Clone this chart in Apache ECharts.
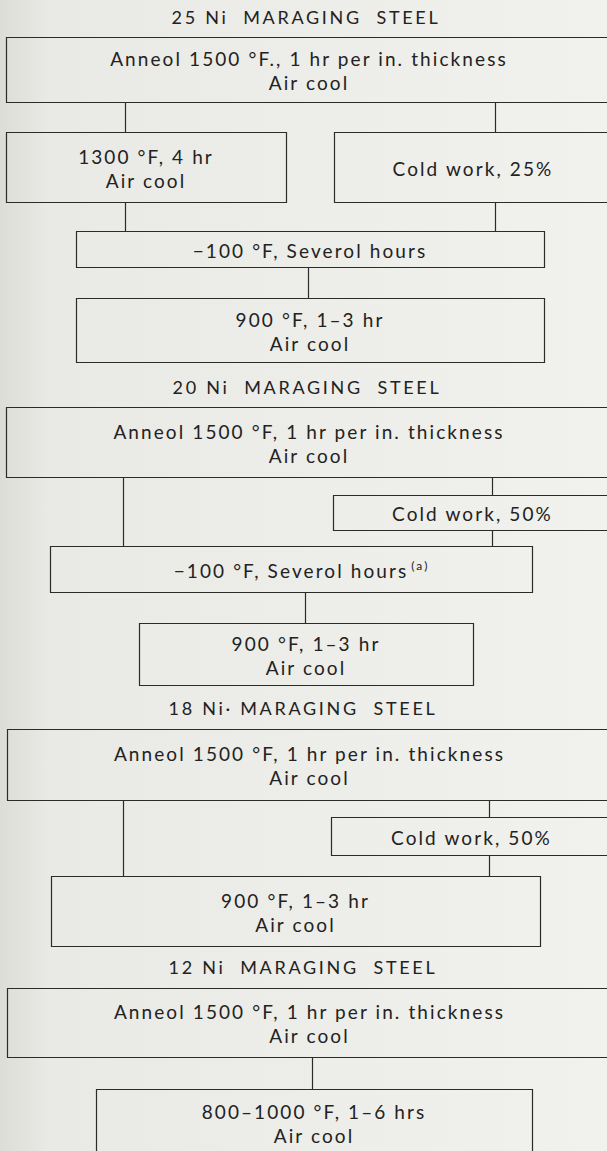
<!DOCTYPE html>
<html>
<head>
<meta charset="utf-8">
<script src="https://cdn.jsdelivr.net/npm/echarts@6/dist/echarts.min.js"></script>
<style>
  html, body { margin: 0; padding: 0; }
  #chart { width: 607px; height: 1151px; }
  /* the original lettering is widely tracked */
  #chart svg text { letter-spacing: 2.1px; }
  #chart svg text.title { letter-spacing: 2.7px; }
</style>
</head>
<body>
<div id="chart"></div>
<script>
// section headings: [text, x center, y]
const titles = [
  ['25 Ni  MARAGING  STEEL', 306, 17],
  ['20 Ni  MARAGING  STEEL', 307, 387],
  ['18 Ni· MARAGING  STEEL', 303, 708],
  ['12 Ni  MARAGING  STEEL', 303, 967]
]

// process boxes: [left, top, right, bottom, label]
const boxes = [
  [6, 37, 612, 102, 'Anneol 1500 °F., 1 hr per in. thickness\nAir cool'],
  [6, 132, 286, 202, '1300 °F, 4 hr\nAir cool'],
  [334, 132, 612, 202, 'Cold work, 25%'],
  [76, 231, 544, 267, '−100 °F, Severol hours'],
  [76, 298, 544, 362, '900 °F, 1–3 hr\nAir cool'],

  [6, 407, 612, 477, 'Anneol 1500 °F, 1 hr per in. thickness\nAir cool'],
  [333, 495, 612, 530, 'Cold work, 50%'],
  [50, 546, 532, 592, '−100 °F, Severol hours'],
  [139, 623, 473, 685, '900 °F, 1–3 hr\nAir cool'],

  [7, 729, 612, 800, 'Anneol 1500 °F, 1 hr per in. thickness\nAir cool'],
  [331, 817, 612, 855, 'Cold work, 50%'],
  [51, 876, 540, 946, '900 °F, 1–3 hr\nAir cool'],

  [7, 988, 612, 1057, 'Anneol 1500 °F, 1 hr per in. thickness\nAir cool'],
  [96, 1089, 532, 1156, '800–1000 °F, 1–6 hrs\nAir cool']
]

// footnote marks: [box index, mark]
const notes = [[7, '(a)']]

// vertical connectors: [x, from, to]
const links = [
  [125, 102, 132], [495, 102, 132], [125, 202, 231], [495, 202, 231], [308, 267, 298],
  [123, 477, 546], [492, 477, 495], [492, 530, 546], [305, 592, 623],
  [123, 800, 876], [489, 800, 817], [489, 855, 876],
  [312, 1057, 1089]
]

const ink = '#2b2b2b'
const textInk = '#222'
const font = 'Lato, "Open Sans", sans-serif'
const boxFont = 19
const spacing = 2.1
const crisp = v => Math.round(v) + 0.5

const mctx = document.createElement('canvas').getContext('2d')
const textWidth = (str, size, gap) => {
  mctx.font = size + 'px Lato'
  return mctx.measureText(str).width + str.length * gap
}

const chart = echarts.init(document.getElementById('chart'), null, { renderer: 'svg' })

chart.setOption({
  backgroundColor: new echarts.graphic.LinearGradient(0, 0, 1, 0, [
    { offset: 0, color: '#dcddd7' },
    { offset: 0.08, color: '#e9e9e5' },
    { offset: 1, color: '#f1f1ed' }
  ]),
  animation: false,
  grid: { left: 0, right: 0, top: 0, bottom: 0 },
  xAxis: { type: 'value', min: 0, max: 607, show: false },
  yAxis: { type: 'value', min: 0, max: 1151, inverse: true, show: false },
  series: [
    {
      type: 'custom',
      clip: false,
      data: boxes.map(b => b.slice(0, 4)),
      renderItem: (params, api) => {
        const p0 = api.coord([api.value(0), api.value(1)])
        const p1 = api.coord([api.value(2), api.value(3)])
        const label = boxes[params.dataIndex][4]
        const cx = (p0[0] + p1[0]) / 2
        const cy = (p0[1] + p1[1]) / 2 + 1
        const children = [
          {
            type: 'rect',
            shape: { x: crisp(p0[0]), y: crisp(p0[1]), width: Math.round(p1[0] - p0[0]), height: Math.round(p1[1] - p0[1]) },
            style: { fill: null, stroke: ink, lineWidth: 1.2 }
          },
          {
            type: 'text',
            style: {
              text: label,
              x: cx,
              y: cy,
              align: 'center',
              verticalAlign: 'middle',
              fontFamily: font,
              fontSize: boxFont,
              lineHeight: 24,
              fill: textInk
            }
          }
        ]
        const note = notes.find(n => n[0] === params.dataIndex)
        if (note) {
          const w = textWidth(label, boxFont, spacing)
          children.push({
            type: 'text',
            style: {
              text: note[1],
              x: cx + w / 2 + 3,
              y: cy - 5,
              align: 'left',
              verticalAlign: 'middle',
              fontFamily: font,
              fontSize: 12,
              fill: textInk
            }
          })
        }
        return { type: 'group', children }
      }
    },
    {
      type: 'custom',
      clip: false,
      data: links,
      renderItem: (params, api) => {
        const a = api.coord([api.value(0), api.value(1)])
        const b = api.coord([api.value(0), api.value(2)])
        return {
          type: 'line',
          shape: { x1: crisp(a[0]), y1: a[1], x2: crisp(b[0]), y2: b[1] },
          style: { stroke: ink, lineWidth: 1.2 }
        }
      }
    },
    {
      type: 'custom',
      clip: false,
      data: titles.map(t => [t[1], t[2]]),
      renderItem: (params, api) => {
        const p = api.coord([api.value(0), api.value(1)])
        return {
          type: 'text',
          style: {
            text: titles[params.dataIndex][0],
            x: p[0],
            y: p[1],
            align: 'center',
            verticalAlign: 'middle',
            fontFamily: font,
            fontSize: 18,
            fill: textInk
          }
        }
      }
    }
  ]
})

// tag the heading texts so they get their own tracking
chart.getDom().querySelectorAll('svg text').forEach(el => {
  if (/MARAGING/.test(el.textContent)) el.classList.add('title')
})
</script>
</body>
</html>
